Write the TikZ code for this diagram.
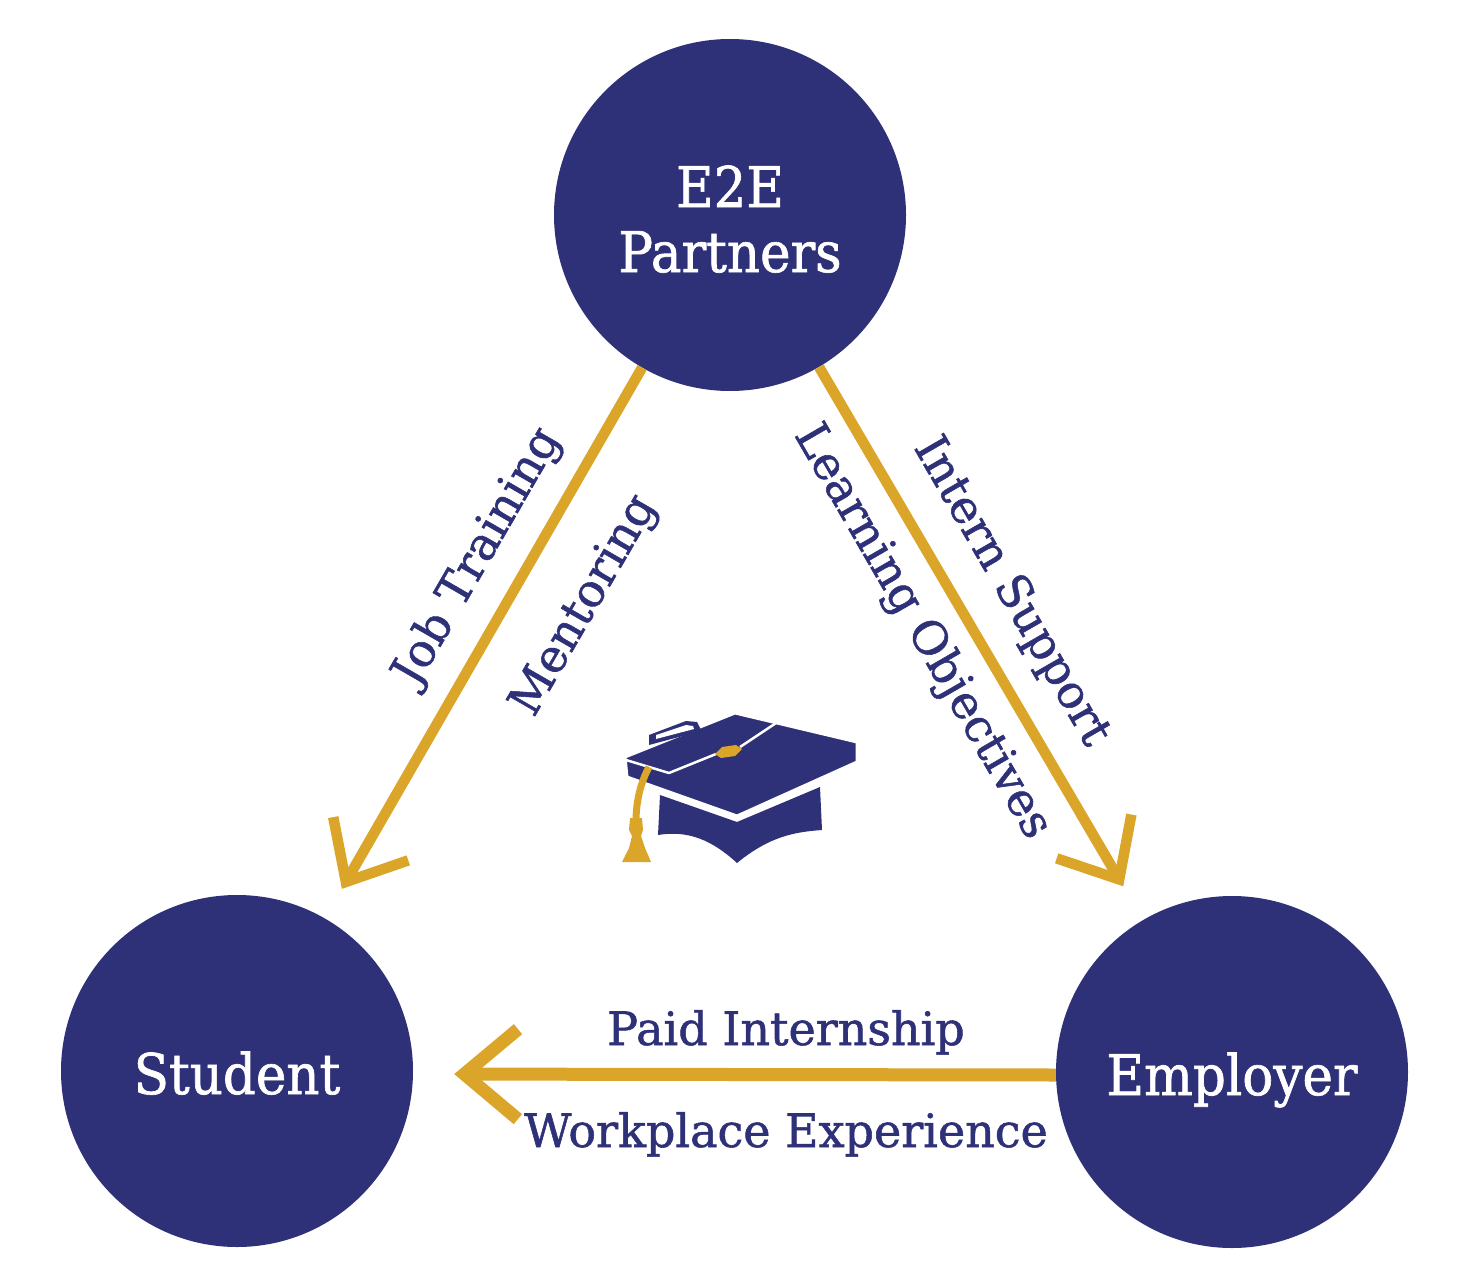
\documentclass[tikz,border=0pt]{standalone}
\usepackage{fontspec}
\newfontfamily\slab[FakeBold=1.2]{DejaVu Serif}
\newfontfamily\slabnarrow[FakeStretch=0.92,FakeBold=1.2]{DejaVu Serif}
\usetikzlibrary{arrows.meta}
\definecolor{navy}{RGB}{46,49,120}
\definecolor{gold}{RGB}{218,165,40}
\begin{document}
\begin{tikzpicture}[x=1pt,y=-1pt,
  hub/.style={circle, fill=navy, minimum size=352pt, inner sep=0pt, text=white,
    font=\slabnarrow\fontsize{56}{65}\selectfont, align=center,
    text height=46pt, text depth=0pt},
  flow/.style={draw=gold, line width=10.5pt, -{Straight Barb[sharp, angle=82:66pt]}},
  lbl/.style={text=navy, font=\slab\fontsize{46}{50}\selectfont, inner sep=0pt}
]
\useasboundingbox (0,0) rectangle (1470,1287);
\node[hub, text height=114pt] (top) at (730,215) {E2E\\Partners};
\node[hub] (student) at (237,1071) {Student};
\node[hub] (employer) at (1232,1072) {Employer};

\draw[flow, shorten >=34pt] (top) -- (student);
\draw[flow, shorten >=39pt] (top) -- (employer);
\draw[flow, line width=13pt, -{Straight Barb[sharp, angle=80:70pt]}, shorten >=41pt]
  ([yshift=-3pt]employer.west) -- ([yshift=-3pt]student.east);

\node[lbl, rotate=60] (jt) at (478,557) {Job Training};
\node[lbl, rotate=60] (me) at (585,606) {Mentoring};
\node[lbl, rotate=-60] (lo) at (922,632) {Learning Objectives};
\node[lbl, rotate=-60] (is) at (1011,592) {Intern Support};
\node[lbl, anchor=base] (pi) at (786,1045) {Paid Internship};
\node[lbl, anchor=base] (we) at (786,1147) {Workplace Experience};

% graduation cap
\fill[navy] (660,795) -- (737,822) -- (820,787) -- (822,830)
  .. controls (795,832) and (770,836) .. (737,863)
  .. controls (712,840) and (688,830) .. (658,835) -- cycle;
\filldraw[navy, draw=white, line width=3pt, line join=round]
  (625,757) -- (735,713) -- (857,742) -- (857,762) -- (737,816) -- (627,777) -- cycle;
\fill[navy] (649,745) -- (649,735) -- (686,721) -- (697,722) -- (701,730) -- (690,734) -- cycle;
\fill[white] (656,739) -- (656,735) -- (686,725) -- (693,726) -- (694,729) -- cycle;
\draw[white, line width=2.5pt, line join=round] (626,760) -- (669,773) -- (716,754);
\draw[white, line width=2.5pt] (740,747) -- (776,723);
\fill[gold] (715,754) -- (722,747) -- (736,745) -- (742,749) -- (735,756) -- (721,758) -- cycle;
\draw[gold, line width=7pt] (649,767) .. controls (641,782) and (636,800) .. (636,822);
\fill[gold] (630,818) -- (642,818) -- (643,830) -- (641,836) -- (645,848) -- (651,862)
  -- (622,862) -- (629,848) -- (632,836) -- (629,830) -- cycle;
\end{tikzpicture}
\end{document}
